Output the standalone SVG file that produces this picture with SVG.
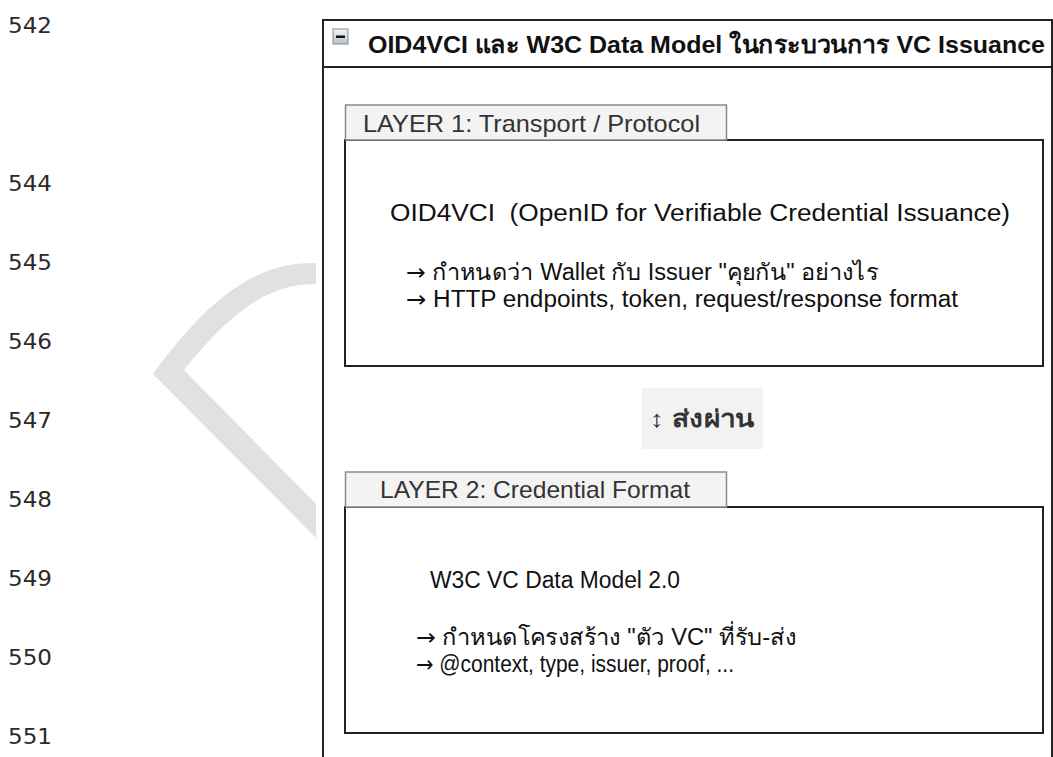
<svg xmlns="http://www.w3.org/2000/svg" width="1053" height="757" viewBox="0 0 1053 757">
  <style>
    .ln { font-family: "DejaVu Sans", "Noto Sans", sans-serif; font-size: 22px; fill: #2a2a2a; }
    .title { font-family: "Liberation Sans", Arial, "Noto Sans", sans-serif; font-size: 24px; font-weight: bold; fill: #111; }
    .tab { fill: #f3f3f3; stroke: #8a8a8a; stroke-width: 1.5; }
    .tabtxt { font-family: "Liberation Sans", Arial, sans-serif; font-size: 24px; fill: #333; }
    .box { fill: #fff; stroke: #222; stroke-width: 2; }
    .txt { font-family: "Liberation Sans", Arial, "Noto Sans", sans-serif; font-size: 23px; fill: #111; white-space: pre; }
    .arr { font-family: "DejaVu Sans", sans-serif; font-weight: normal; }
    .mid { font-family: "Liberation Sans", Arial, "Noto Sans", sans-serif; font-size: 24px; font-weight: bold; fill: #333; }
  </style>
  <defs>
    <linearGradient id="icoGrad" x1="0" y1="0" x2="0" y2="1">
      <stop offset="0" stop-color="#f4f6f8"/>
      <stop offset="1" stop-color="#b8c0c8"/>
    </linearGradient>
  </defs>

  <rect x="0" y="0" width="1053" height="757" fill="#fff"/>

  <!-- line numbers -->
  <g id="line-numbers">
    <text class="ln" x="8" y="33" textLength="44" lengthAdjust="spacingAndGlyphs">542</text>
    <text class="ln" x="8" y="191" textLength="44" lengthAdjust="spacingAndGlyphs">544</text>
    <text class="ln" x="8" y="270" textLength="44" lengthAdjust="spacingAndGlyphs">545</text>
    <text class="ln" x="8" y="349" textLength="44" lengthAdjust="spacingAndGlyphs">546</text>
    <text class="ln" x="8" y="428" textLength="44" lengthAdjust="spacingAndGlyphs">547</text>
    <text class="ln" x="8" y="507" textLength="44" lengthAdjust="spacingAndGlyphs">548</text>
    <text class="ln" x="8" y="586" textLength="44" lengthAdjust="spacingAndGlyphs">549</text>
    <text class="ln" x="8" y="665" textLength="44" lengthAdjust="spacingAndGlyphs">550</text>
    <text class="ln" x="8" y="744" textLength="44" lengthAdjust="spacingAndGlyphs">551</text>
  </g>

  <!-- watermark fragment -->
  <path id="watermark" d="M316,263 C262,262 214,290 153,374 L316,538 L316,504 L184,370 C236,306 272,284 316,284 Z" fill="#e1e1e1"/>

  <!-- outer frame -->
  <g id="frame">
    <rect x="316" y="0" width="737" height="757" fill="#fff"/>
    <rect x="323" y="20" width="729" height="780" fill="#fff" stroke="#222" stroke-width="2"/>
    <line x1="323" y1="67" x2="1053" y2="67" stroke="#222" stroke-width="2"/>
    <rect x="333" y="29" width="15" height="15" fill="url(#icoGrad)" stroke="#7d8a99" stroke-width="1"/>
    <rect x="336" y="35.5" width="9" height="2.5" fill="#111"/>
    <text class="title" x="368" y="53" textLength="677" lengthAdjust="spacingAndGlyphs">OID4VCI และ W3C Data Model ในกระบวนการ VC Issuance</text>
  </g>

  <!-- layer 1 -->
  <g id="layer1">
    <rect class="box" x="345" y="140" width="698" height="226"/>
    <rect class="tab" x="345.5" y="105" width="381" height="35"/>
    <text class="tabtxt" x="363" y="132" textLength="337" lengthAdjust="spacingAndGlyphs">LAYER 1: Transport / Protocol</text>
    <text class="txt" x="390" y="221" textLength="620" lengthAdjust="spacingAndGlyphs">OID4VCI  (OpenID for Verifiable Credential Issuance)</text>
    <text class="txt" x="406" y="280" textLength="472" lengthAdjust="spacingAndGlyphs"><tspan class="arr">→</tspan> กำหนดว่า Wallet กับ Issuer "คุยกัน" อย่างไร</text>
    <text class="txt" x="406" y="307" textLength="552" lengthAdjust="spacingAndGlyphs"><tspan class="arr">→</tspan> HTTP endpoints, token, request/response format</text>
  </g>

  <!-- pass-through label -->
  <g id="pass">
    <rect x="642" y="388" width="121" height="61" fill="#f2f2f2"/>
    <text class="mid" x="650" y="427" textLength="104" lengthAdjust="spacingAndGlyphs">↕ ส่งผ่าน</text>
  </g>

  <!-- layer 2 -->
  <g id="layer2">
    <rect class="box" x="345" y="507" width="698" height="226"/>
    <rect class="tab" x="345.5" y="472" width="381" height="35"/>
    <text class="tabtxt" x="380" y="498" textLength="310" lengthAdjust="spacingAndGlyphs">LAYER 2: Credential Format</text>
    <text class="txt" x="430" y="588" textLength="250" lengthAdjust="spacingAndGlyphs">W3C VC Data Model 2.0</text>
    <text class="txt" x="416" y="645" textLength="380" lengthAdjust="spacingAndGlyphs"><tspan class="arr">→</tspan> กำหนดโครงสร้าง "ตัว VC" ที่รับ-ส่ง</text>
    <text class="txt" x="416" y="672" textLength="318" lengthAdjust="spacingAndGlyphs"><tspan class="arr">→</tspan> @context, type, issuer, proof, ...</text>
  </g>
</svg>
